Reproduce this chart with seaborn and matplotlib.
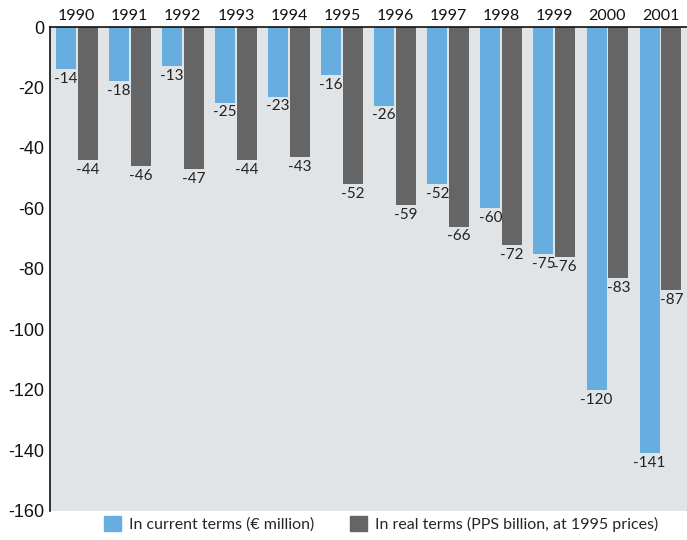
import numpy as np
import pandas as pd
import matplotlib.pyplot as plt
import seaborn as sns

years = ['1990', '1991', '1992', '1993', '1994', '1995', '1996', '1997', '1998', '1999', '2000', '2001']
current_terms = [-14, -18, -13, -25, -23, -16, -26, -52, -60, -75, -120, -141]
real_terms = [-44, -46, -47, -44, -43, -52, -59, -66, -72, -76, -83, -87]
series_names = ['In current terms (\u20ac million)', 'In real terms (PPS billion, at 1995 prices)']
y_ticks = [0, -20, -40, -60, -80, -100, -120, -140, -160]

BLUE = '#66ade0'
GREY = '#656565'
BG = '#e1e4e7'

sns.set_theme(style='white')
plt.rcParams['font.family'] = ['Lato', 'DejaVu Sans']

df = pd.DataFrame({
    'year': years * 2,
    'value': current_terms + real_terms,
    'series': [series_names[0]] * len(years) + [series_names[1]] * len(years),
})

fig = plt.figure(figsize=(6.87, 5.4), dpi=100)
ax = fig.add_axes([0.073, 0.054, 0.927, 0.896])
ax.set_facecolor(BG)

sns.barplot(data=df, x='year', y='value', hue='series', order=years, hue_order=series_names,
            palette=[BLUE, GREY], width=0.82, gap=0.08, saturation=1, linewidth=0,
            ax=ax, legend=False)

ax.set_ylim(-160, 0)
ax.set_xlim(-0.5, len(years) - 0.5)
ax.set_yticks(y_ticks)
ax.set_yticklabels([str(v) for v in y_ticks], family='Liberation Sans', fontsize=13, color='#111111')
ax.tick_params(axis='y', length=0, pad=4)
ax.set_xlabel('')
ax.set_ylabel('')

# years on top
ax.xaxis.tick_top()
ax.tick_params(axis='x', length=0, pad=3, labelsize=11.5)
for lbl in ax.get_xticklabels():
    lbl.set_color('#111111')

for s in ['right', 'bottom']:
    ax.spines[s].set_visible(False)
for s in ['left', 'top']:
    ax.spines[s].set_color('#111111')
    ax.spines[s].set_linewidth(1.2)

for container in ax.containers:
    for bar in container:
        h = bar.get_height()
        ax.annotate(f'{int(round(h))}', (bar.get_x() + bar.get_width() / 2, h),
                    xytext=(0, -2), textcoords='offset points', ha='center', va='top',
                    fontsize=11, color='#222222')

handles = [plt.Rectangle((0, 0), 1, 1, color=c) for c in [BLUE, GREY]]
fig.legend(handles, series_names, loc='lower center', bbox_to_anchor=(0.555, -0.012), ncol=2,
           frameon=False, fontsize=11.5, handlelength=1.1, handleheight=1.1,
           handletextpad=0.5, columnspacing=2.2)

fig.savefig('out.png', dpi=100)
